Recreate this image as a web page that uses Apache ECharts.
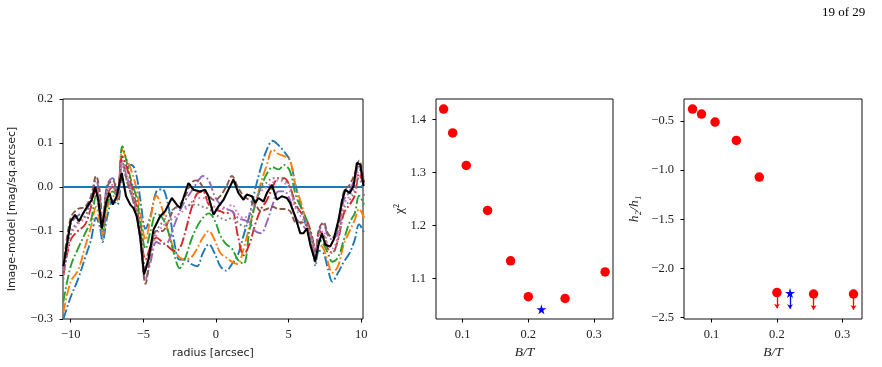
<!DOCTYPE html>
<html><head><meta charset="utf-8">
<script src="https://cdn.jsdelivr.net/npm/echarts@6/dist/echarts.min.js"></script>
<style>html,body{margin:0;padding:0;background:#fff}#c{width:882px;height:367px}</style>
</head><body><div id="c"></div>
<script>
// ---------- data: left panel (residual profiles) ----------
const radius = [-10.5,-10.0,-9.5,-9.0,-8.6,-8.25,-8.0,-7.8,-7.5,-7.1,-6.8,-6.45,-6.1,-5.8,-5.5,-5.2,-4.85,
  -4.5,-4.1,-3.7,-3.3,-2.9,-2.5,-2.1,-1.7,-1.3,-0.9,-0.5,-0.1,0.3,0.7,1.1,1.5,1.9,2.3,2.7,3.1,3.5,3.9,4.3,4.7,
  5.1,5.5,5.9,6.3,6.6,6.85,7.1,7.4,7.7,8.0,8.4,8.8,9.2,9.55,9.85,10.2];
const model1 = [-0.30,-0.25,-0.21,-0.16,-0.12,-0.07,-0.09,-0.125,-0.07,-0.03,-0.04,0.03,0.045,0.05,0.03,-0.03,-0.095,
  -0.065,-0.01,-0.005,-0.04,-0.12,-0.165,-0.165,-0.175,-0.18,-0.15,-0.13,-0.15,-0.18,-0.19,-0.175,-0.155,-0.11,-0.065,-0.005,0.045,
  0.085,0.105,0.095,0.08,0.06,0.0,-0.05,-0.1,-0.13,-0.17,-0.145,-0.15,-0.185,-0.215,-0.195,-0.17,-0.15,-0.12,-0.085,-0.105];
const model2 = [-0.285,-0.215,-0.19,-0.135,-0.09,-0.045,-0.08,-0.11,-0.05,-0.02,-0.03,0.085,0.06,0.035,0.0,-0.06,-0.12,
  -0.07,-0.02,-0.05,-0.1,-0.14,-0.16,-0.165,-0.16,-0.14,-0.115,-0.1,-0.12,-0.15,-0.16,-0.17,-0.175,-0.14,-0.09,-0.04,0.01,
  0.05,0.085,0.075,0.07,0.06,0.0,-0.04,-0.09,-0.13,-0.165,-0.13,-0.14,-0.17,-0.195,-0.18,-0.13,-0.1,-0.075,-0.05,-0.07];
const model3 = [-0.26,-0.18,-0.14,-0.105,-0.075,-0.02,-0.06,-0.1,-0.04,-0.01,-0.02,0.093,0.05,0.01,-0.02,-0.08,-0.14,
  -0.1,-0.06,-0.07,-0.1,-0.15,-0.185,-0.16,-0.12,-0.09,-0.07,-0.06,-0.075,-0.11,-0.13,-0.14,-0.165,-0.175,-0.1,-0.04,0.0,
  0.03,0.045,0.04,0.05,0.035,-0.02,-0.05,-0.08,-0.12,-0.16,-0.12,-0.13,-0.15,-0.17,-0.16,-0.12,-0.08,-0.06,-0.02,-0.04];
const model4 = [-0.2,-0.12,-0.1,-0.085,-0.045,0.0,-0.05,-0.09,-0.02,0.0,-0.02,0.07,0.04,0.0,-0.04,-0.1,-0.165,
  -0.135,-0.115,-0.125,-0.135,-0.145,-0.14,-0.1,-0.05,-0.015,-0.01,-0.04,-0.05,-0.055,-0.06,-0.055,-0.11,-0.155,-0.13,-0.085,-0.05,
  -0.03,0.0,0.02,0.02,0.0,-0.04,-0.06,-0.08,-0.11,-0.15,-0.1,-0.11,-0.14,-0.15,-0.12,-0.06,-0.04,-0.02,0.03,0.0];
const model5 = [-0.19,-0.085,-0.065,-0.055,-0.03,0.015,-0.02,-0.085,0.005,0.02,-0.01,0.055,0.02,-0.01,-0.05,-0.12,-0.21,
  -0.17,-0.125,-0.13,-0.125,-0.09,-0.055,-0.03,-0.01,0.01,0.025,0.015,-0.02,-0.04,-0.05,-0.055,-0.07,-0.075,-0.08,-0.1,-0.105,
  -0.08,-0.04,-0.01,-0.01,-0.03,-0.07,-0.085,-0.1,-0.12,-0.155,-0.1,-0.085,-0.11,-0.12,-0.1,-0.03,-0.01,0.02,0.05,0.01];
const model6 = [-0.18,-0.07,-0.05,-0.045,-0.02,0.025,-0.01,-0.085,0.0,0.015,-0.015,0.06,0.01,-0.02,-0.06,-0.12,-0.22,
  -0.15,-0.1,-0.1,-0.08,-0.05,-0.04,-0.02,0.01,0.015,0.0,-0.02,-0.03,-0.02,0.0,0.025,0.0,-0.02,-0.03,-0.04,-0.055,
  -0.05,-0.045,-0.05,-0.05,-0.055,-0.08,-0.08,-0.09,-0.115,-0.145,-0.095,-0.08,-0.105,-0.115,-0.09,-0.01,0.005,0.03,0.06,0.01];
const model7 = [-0.2,-0.11,-0.085,-0.07,-0.04,-0.005,-0.04,-0.09,-0.01,0.005,-0.025,0.06,0.02,-0.01,-0.05,-0.11,-0.19,
  -0.15,-0.11,-0.09,-0.08,-0.07,-0.06,-0.05,-0.035,-0.025,-0.025,-0.035,-0.045,-0.05,-0.05,-0.04,-0.06,-0.07,-0.06,-0.03,-0.01,
  0.0,0.01,0.015,0.01,-0.01,-0.05,-0.07,-0.09,-0.12,-0.16,-0.11,-0.1,-0.13,-0.14,-0.11,-0.04,-0.02,0.0,0.04,0.0];
const model8 = [-0.21,-0.105,-0.08,-0.065,-0.035,-0.006,-0.04,-0.12,-0.01,0.0,-0.03,0.045,0.01,-0.02,-0.05,-0.11,-0.18,
  -0.14,-0.1,-0.08,-0.06,-0.05,-0.045,-0.045,-0.04,-0.04,-0.045,-0.05,-0.06,-0.07,-0.075,-0.07,-0.08,-0.09,-0.07,-0.04,0.0,
  0.01,0.02,0.02,0.015,0.0,-0.045,-0.06,-0.08,-0.12,-0.18,-0.12,-0.11,-0.14,-0.15,-0.12,-0.05,-0.03,-0.01,0.02,-0.02];
const bestRadius = [-10.5,-10.28,-10.0,-9.7,-9.43,-9.13,-8.78,-8.55,-8.32,-8.1,-7.86,-7.57,-7.34,-7.1,-6.83,-6.49,-6.19,-5.9,
  -5.68,-5.45,-5.22,-4.95,-4.65,-4.3,-3.85,-3.5,-3.04,-2.7,-2.47,-2.2,-1.9,-1.55,-1.1,-0.75,-0.52,-0.17,0.17,0.52,0.86,1.2,
  1.55,1.9,2.12,2.47,2.7,2.93,3.27,3.5,3.85,4.19,4.53,4.88,5.1,5.45,5.8,6.03,6.26,6.49,6.83,7.06,7.29,7.52,7.86,8.1,8.44,
  8.67,8.9,9.2,9.47,9.7,9.93,10.16];
const bestModel = [-0.18,-0.135,-0.078,-0.063,-0.078,-0.059,-0.04,-0.029,0.0,-0.03,-0.094,-0.036,-0.013,-0.04,-0.021,0.032,-0.021,-0.04,
  -0.048,-0.067,-0.112,-0.199,-0.165,-0.097,-0.067,-0.055,-0.025,-0.04,-0.048,-0.021,0.009,-0.006,-0.01,-0.006,-0.021,-0.063,-0.044,-0.029,-0.006,0.017,
  -0.014,-0.029,-0.017,-0.021,-0.036,-0.025,-0.033,-0.014,0.005,-0.029,-0.021,-0.025,-0.036,-0.067,-0.105,-0.105,-0.094,-0.131,-0.169,-0.131,-0.105,-0.131,-0.135,-0.12,-0.074,
  -0.033,-0.006,-0.014,0.002,0.055,0.051,0.002];
const zeroLevel = 0;
const radiusTicks = [-10,-5,0,5,10];
const residualTicks = [-0.3,-0.2,-0.1,0,0.1,0.2];

// ---------- data: middle and right panels ----------
const btValues = [0.071,0.0848,0.1055,0.138,0.173,0.2,0.256,0.317];
const chi2Values = [1.420,1.375,1.3136,1.2286,1.1335,1.066,1.0625,1.1127];
const h2h1Values = [-0.381,-0.432,-0.513,-0.70,-1.072,-2.245,-2.259,-2.259];
const h2h1IsLimit = [false,false,false,false,false,true,true,true];
const bestBT = 0.22, bestChi2 = 1.042, bestH2h1 = -2.25;
const limitArrowLength = 0.16;
const btTicks = [0.1,0.2,0.3];
const chi2Ticks = [1.1,1.2,1.3,1.4];
const h2h1Ticks = [-2.5,-2.0,-1.5,-1.0,-0.5];

// ---------- styles ----------
const colors = ['#1f77b4','#ff7f0e','#2ca02c','#d62728','#9467bd','#8c564b','#e377c2','#7f7f7f'];
const dashDot = [10,2.6,1.8,2.6], dashed = [6,2.6], dotted = [1.8,2.7];
const styles = [dashDot,dashDot,dashDot,dashDot,dashDot,dashed,dotted,dotted];
const models = [model1,model2,model3,model4,model5,model6,model7,model8];
const SERIF = 'Liberation Serif';
const SANS = 'DejaVu Sans';
const star = 'path://M50,0 L61,35 L98,35 L68,57 L79,91 L50,70 L21,91 L32,57 L2,35 L39,35 Z';
const minus = v => (v < 0 ? '\u2212' : '') + Math.abs(v);
const fmt1 = v => (v < 0 ? '\u2212' : '') + Math.abs(v).toFixed(1);

function axisCommon(ticks, formatter, margin) {
  return {
    axisLine: {show: false, onZero: false},
    splitLine: {show: false},
    axisTick: {show: true, length: 3.5, customValues: ticks, lineStyle: {color: '#000', width: 1}},
    axisLabel: {show: true, customValues: ticks, formatter: formatter, fontFamily: SERIF, fontSize: 12.5, color: '#222', margin: margin},
    nameTextStyle: {color: '#222'}
  };
}

const chart = echarts.init(document.getElementById('c'), null, {renderer: 'canvas'});
const series = [];
models.forEach((m, k) => {
  series.push({
    type: 'line', xAxisIndex: 0, yAxisIndex: 0, data: radius.map((r, i) => [r, m[i]]),
    showSymbol: false, smooth: 0.35, z: 2 + k, silent: true,
    lineStyle: {color: colors[k], width: 1.9, type: styles[k], cap: 'butt'}
  });
});
series.push({
  type: 'line', xAxisIndex: 0, yAxisIndex: 0, data: [], z: 20, silent: true,
  markLine: {silent: true, symbol: ['none','none'], label: {show: false},
    lineStyle: {color: '#1f77b4', width: 1.8, type: 'solid'}, data: [{yAxis: zeroLevel}]}
});
series.push({
  type: 'line', xAxisIndex: 0, yAxisIndex: 0, data: bestRadius.map((r, i) => [r, bestModel[i]]),
  showSymbol: false, z: 30, silent: true, lineStyle: {color: '#000', width: 2.1}
});
// middle
series.push({
  type: 'scatter', xAxisIndex: 1, yAxisIndex: 1, data: btValues.map((b, i) => [b, chi2Values[i]]),
  symbol: 'circle', symbolSize: 9.5, itemStyle: {color: '#ff0000', opacity: 1}, silent: true, z: 5
});
series.push({
  type: 'scatter', xAxisIndex: 1, yAxisIndex: 1, data: [[bestBT, bestChi2]],
  symbol: star, symbolSize: 10, itemStyle: {color: '#0000ff', opacity: 1}, silent: true, z: 5
});
// right
series.push({
  type: 'lines', coordinateSystem: 'cartesian2d', xAxisIndex: 2, yAxisIndex: 2, silent: true, z: 3,
  symbol: ['none','arrow'], symbolSize: 4.5,
  lineStyle: {color: '#ff0000', width: 1.3, opacity: 1},
  data: btValues.map((b, i) => h2h1IsLimit[i] ? {coords: [[b, h2h1Values[i]], [b, h2h1Values[i] - limitArrowLength]]} : null).filter(Boolean)
});
series.push({
  type: 'lines', coordinateSystem: 'cartesian2d', xAxisIndex: 2, yAxisIndex: 2, silent: true, z: 3,
  symbol: ['none','arrow'], symbolSize: 4.5,
  lineStyle: {color: '#0000ff', width: 1.3, opacity: 1},
  data: [{coords: [[bestBT, bestH2h1], [bestBT, bestH2h1 - limitArrowLength]]}]
});
series.push({
  type: 'scatter', xAxisIndex: 2, yAxisIndex: 2, data: btValues.map((b, i) => [b, h2h1Values[i]]),
  symbol: 'circle', symbolSize: 9.5, itemStyle: {color: '#ff0000', opacity: 1}, silent: true, z: 5
});
series.push({
  type: 'scatter', xAxisIndex: 2, yAxisIndex: 2, data: [[bestBT, bestH2h1]],
  symbol: star, symbolSize: 10, itemStyle: {color: '#0000ff', opacity: 1}, silent: true, z: 5
});

const gridStyle = {show: true, borderColor: '#111', borderWidth: 1, backgroundColor: 'transparent'};
chart.setOption({
  animation: false,
  backgroundColor: '#fff',
  grid: [
    Object.assign({left: 63, top: 99, width: 300, height: 220}, gridStyle),
    Object.assign({left: 436, top: 99, width: 177, height: 220}, gridStyle),
    Object.assign({left: 684, top: 99, width: 178, height: 220}, gridStyle)
  ],
  xAxis: [
    Object.assign(axisCommon(radiusTicks, minus, 9), {type: 'value', gridIndex: 0, min: -10.53, max: 10.12,
      name: 'radius [arcsec]', nameLocation: 'middle', nameGap: 29,
      nameTextStyle: {fontFamily: SANS, fontSize: 11, color: '#222'}}),
    Object.assign(axisCommon(btTicks, v => v.toFixed(1), 9), {type: 'value', gridIndex: 1, min: 0.0594, max: 0.329,
      name: 'B/T', nameLocation: 'middle', nameGap: 25,
      nameTextStyle: {fontFamily: SERIF, fontStyle: 'italic', fontSize: 13.5, color: '#222'}}),
    Object.assign(axisCommon(btTicks, v => v.toFixed(1), 9), {type: 'value', gridIndex: 2, min: 0.058, max: 0.33,
      name: 'B/T', nameLocation: 'middle', nameGap: 25,
      nameTextStyle: {fontFamily: SERIF, fontStyle: 'italic', fontSize: 13.5, color: '#222'}})
  ],
  yAxis: [
    Object.assign(axisCommon(residualTicks, fmt1, 10), {type: 'value', gridIndex: 0, min: -0.3, max: 0.2,
      name: 'Image-model [mag/sq.arcsec]', nameLocation: 'middle', nameGap: 45, nameRotate: 90,
      nameTextStyle: {fontFamily: SANS, fontSize: 11, color: '#222'}}),
    Object.assign(axisCommon(chi2Ticks, v => v.toFixed(1), 10), {type: 'value', gridIndex: 1, min: 1.0238, max: 1.439,
      name: 'χ²', nameLocation: 'middle', nameGap: 30, nameRotate: 90,
      nameTextStyle: {fontFamily: SERIF, fontSize: 13.5, color: '#222'}}),
    Object.assign(axisCommon(h2h1Ticks, fmt1, 10), {type: 'value', gridIndex: 2, min: -2.513, max: -0.279,
      name: 'h₂/h₁', nameLocation: 'middle', nameGap: 43, nameRotate: 90,
      nameTextStyle: {fontFamily: SERIF, fontStyle: 'italic', fontSize: 13.5, color: '#222'}})
  ],
  graphic: [{type: 'text', left: 822, top: 6, style: {text: '19 of 29', font: '13px "Liberation Serif"', fill: '#000'}}],
  series: series
});
</script></body></html>
